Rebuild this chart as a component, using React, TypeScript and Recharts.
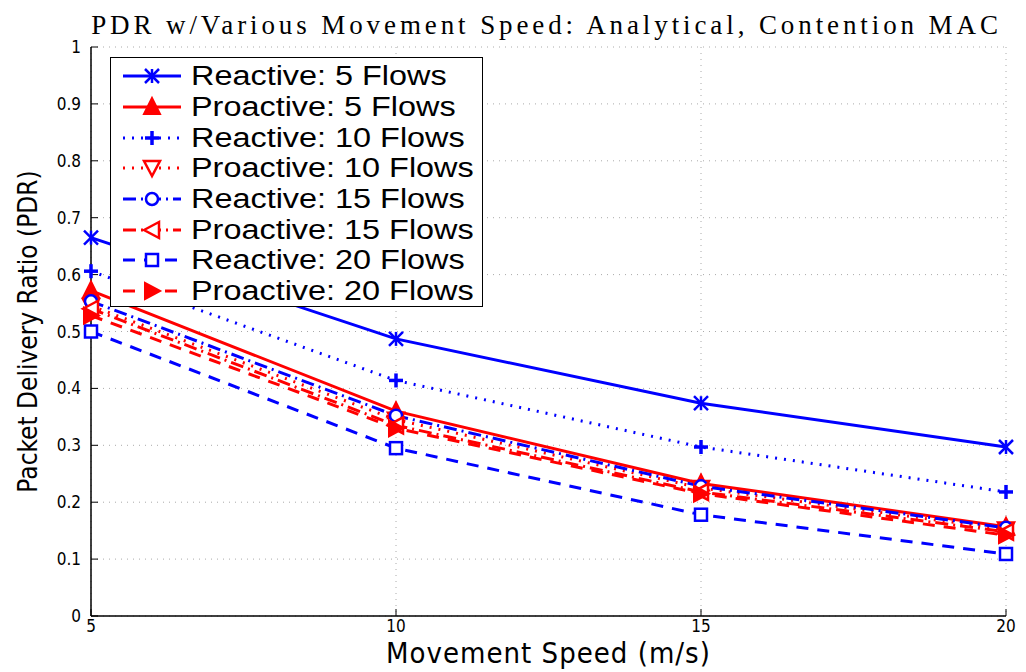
import React from 'react'
import {
  LineChart,
  Line,
  XAxis,
  YAxis,
  CartesianGrid,
} from 'recharts'

const speeds = [5, 10, 15, 20]
const reactive5 = [0.665, 0.487, 0.374, 0.297]
const proactive5 = [0.572, 0.36, 0.233, 0.157]
const reactive10 = [0.606, 0.414, 0.297, 0.218]
const proactive10 = [0.545, 0.345, 0.225, 0.152]
const reactive15 = [0.553, 0.352, 0.228, 0.155]
const proactive15 = [0.54, 0.335, 0.218, 0.148]
const reactive20 = [0.5, 0.295, 0.178, 0.109]
const proactive20 = [0.528, 0.33, 0.215, 0.142]
const yTicks = [0, 0.1, 0.2, 0.3, 0.4, 0.5, 0.6, 0.7, 0.8, 0.9, 1]

const BLUE = '#0000ff'
const RED = '#ff0000'
const SANS = '"Liberation Sans", Arial, sans-serif'
const NARROW = '"Liberation Sans Narrow", "DejaVu Sans Condensed", "Liberation Sans", sans-serif'

type Shape = 'star' | 'up' | 'plus' | 'down' | 'circle' | 'left' | 'square' | 'right'

const series: { key: string; name: string; color: string; dash?: string; shape: Shape; values: number[] }[] = [
  { key: 'r5', name: 'Reactive: 5 Flows', color: BLUE, shape: 'star', values: reactive5 },
  { key: 'p5', name: 'Proactive: 5 Flows', color: RED, shape: 'up', values: proactive5 },
  { key: 'r10', name: 'Reactive: 10 Flows', color: BLUE, dash: '2 7', shape: 'plus', values: reactive10 },
  { key: 'p10', name: 'Proactive: 10 Flows', color: RED, dash: '2 7', shape: 'down', values: proactive10 },
  { key: 'r15', name: 'Reactive: 15 Flows', color: BLUE, dash: '13 5 2 5', shape: 'circle', values: reactive15 },
  { key: 'p15', name: 'Proactive: 15 Flows', color: RED, dash: '13 5 2 5', shape: 'left', values: proactive15 },
  { key: 'r20', name: 'Reactive: 20 Flows', color: BLUE, dash: '12 9', shape: 'square', values: reactive20 },
  { key: 'p20', name: 'Proactive: 20 Flows', color: RED, dash: '12 9', shape: 'right', values: proactive20 },
]

const data = speeds.map((s, i) => {
  const row: Record<string, number> = { speed: s }
  series.forEach((sr) => {
    row[sr.key] = sr.values[i]
  })
  return row
})

function Marker({ cx, cy, shape, color }: { cx: number; cy: number; shape: Shape; color: string }) {
  const r = 7
  const common = { stroke: color, strokeWidth: 2.5, fill: 'none' }
  switch (shape) {
    case 'star':
      return (
        <g {...common}>
          <line x1={cx - r} y1={cy - r} x2={cx + r} y2={cy + r} />
          <line x1={cx - r} y1={cy + r} x2={cx + r} y2={cy - r} />
          <line x1={cx} y1={cy - r} x2={cx} y2={cy + r} />
        </g>
      )
    case 'plus':
      return (
        <g {...common} strokeWidth={3.5}>
          <line x1={cx - r} y1={cy} x2={cx + r} y2={cy} />
          <line x1={cx} y1={cy - r} x2={cx} y2={cy + r} />
        </g>
      )
    case 'up':
      return <polygon points={`${cx},${cy - r - 2} ${cx - r - 1},${cy + r} ${cx + r + 1},${cy + r}`} fill={color} stroke={color} strokeWidth={2} />
    case 'down':
      return <polygon points={`${cx},${cy + r + 1} ${cx - r - 1},${cy - r} ${cx + r + 1},${cy - r}`} {...common} fill="#fff" />
    case 'left':
      return <polygon points={`${cx - r - 1},${cy} ${cx + r},${cy - r - 1} ${cx + r},${cy + r + 1}`} {...common} fill="#fff" />
    case 'right':
      return <polygon points={`${cx + r + 1},${cy} ${cx - r},${cy - r - 1} ${cx - r},${cy + r + 1}`} fill={color} stroke={color} strokeWidth={2} />
    case 'circle':
      return <circle cx={cx} cy={cy} r={r - 1} {...common} fill="#fff" />
    case 'square':
      return <rect x={cx - r + 1} y={cy - r + 1} width={2 * r - 2} height={2 * r - 2} {...common} fill="#fff" />
  }
  return null
}

function LegendBox() {
  return (
    <div
      style={{
        position: 'absolute',
        left: 102,
        top: 49,
        width: 373,
        height: 250,
        border: '1.5px solid #000',
        background: '#fff',
        paddingTop: 3,
        boxSizing: 'border-box',
      }}
    >
      {series.map((s) => (
        <div key={s.key} style={{ display: 'flex', alignItems: 'center', height: 30.7 }}>
          <svg width={80} height={30} style={{ flex: 'none' }}>
            <line x1={12} y1={15} x2={70} y2={15} stroke={s.color} strokeWidth={3} strokeDasharray={s.dash} />
            <Marker cx={41} cy={15} shape={s.shape} color={s.color} />
          </svg>
          <span
            style={{
              fontFamily: SANS,
              fontSize: 27,
              color: '#000',
              lineHeight: '30px',
              whiteSpace: 'nowrap',
              display: 'inline-block',
              transform: 'scaleX(1.2)',
              transformOrigin: 'left center',
            }}
          >
            {s.name}
          </span>
        </div>
      ))}
    </div>
  )
}

export default function App() {
  return (
    <div style={{ position: 'relative', width: 1018, height: 664, background: '#fff' }}>
      <div
        style={{
          position: 'absolute',
          left: 71,
          top: 2,
          width: 935,
          textAlign: 'center',
          fontFamily: '"Liberation Serif", "DejaVu Serif", serif',
          fontSize: 27,
          letterSpacing: 3.9,
          color: '#000',
          whiteSpace: 'nowrap',
        }}
      >
        PDR w/Various Movement Speed: Analytical, Contention MAC
      </div>
      <LineChart width={1018} height={664} data={data} margin={{ top: 39, right: 20, bottom: 0, left: 0 }}>
        <CartesianGrid stroke="#aaa" strokeDasharray="1 5" />
        <XAxis
          dataKey="speed"
          type="number"
          domain={[5, 20]}
          ticks={speeds}
          height={56}
          tickSize={-7}
          tickMargin={11}
          axisLine={{ stroke: '#000', strokeWidth: 1.5 }}
          tickLine={{ stroke: '#000' }}
          tick={{ fill: '#000', fontSize: 17, fontFamily: NARROW }}
          label={{
            value: 'Movement Speed (m/s)',
            position: 'insideBottom',
            offset: 9,
            style: { fill: '#000', fontSize: 29, fontFamily: NARROW, letterSpacing: 1 },
          }}
        />
        <YAxis
          type="number"
          domain={[0, 1]}
          ticks={yTicks}
          width={83}
          tickSize={-7}
          tickMargin={17}
          axisLine={{ stroke: '#000', strokeWidth: 1.5 }}
          tickLine={{ stroke: '#000' }}
          tick={{ fill: '#000', fontSize: 17, fontFamily: NARROW }}
          label={{
            value: 'Packet Delivery Ratio (PDR)',
            angle: -90,
            position: 'insideLeft',
            offset: 20,
            style: { textAnchor: 'middle', fill: '#000', fontSize: 26, fontFamily: NARROW },
          }}
        />
        {series.map((s) => (
          <Line
            key={s.key}
            dataKey={s.key}
            name={s.name}
            type="linear"
            stroke={s.color}
            strokeWidth={3}
            strokeDasharray={s.dash}
            dot={(p: any) => <Marker key={`${s.key}-${p.index}`} cx={p.cx} cy={p.cy} shape={s.shape} color={s.color} />}
            activeDot={false}
            isAnimationActive={false}
          />
        ))}
      </LineChart>
      <LegendBox />
    </div>
  )
}
